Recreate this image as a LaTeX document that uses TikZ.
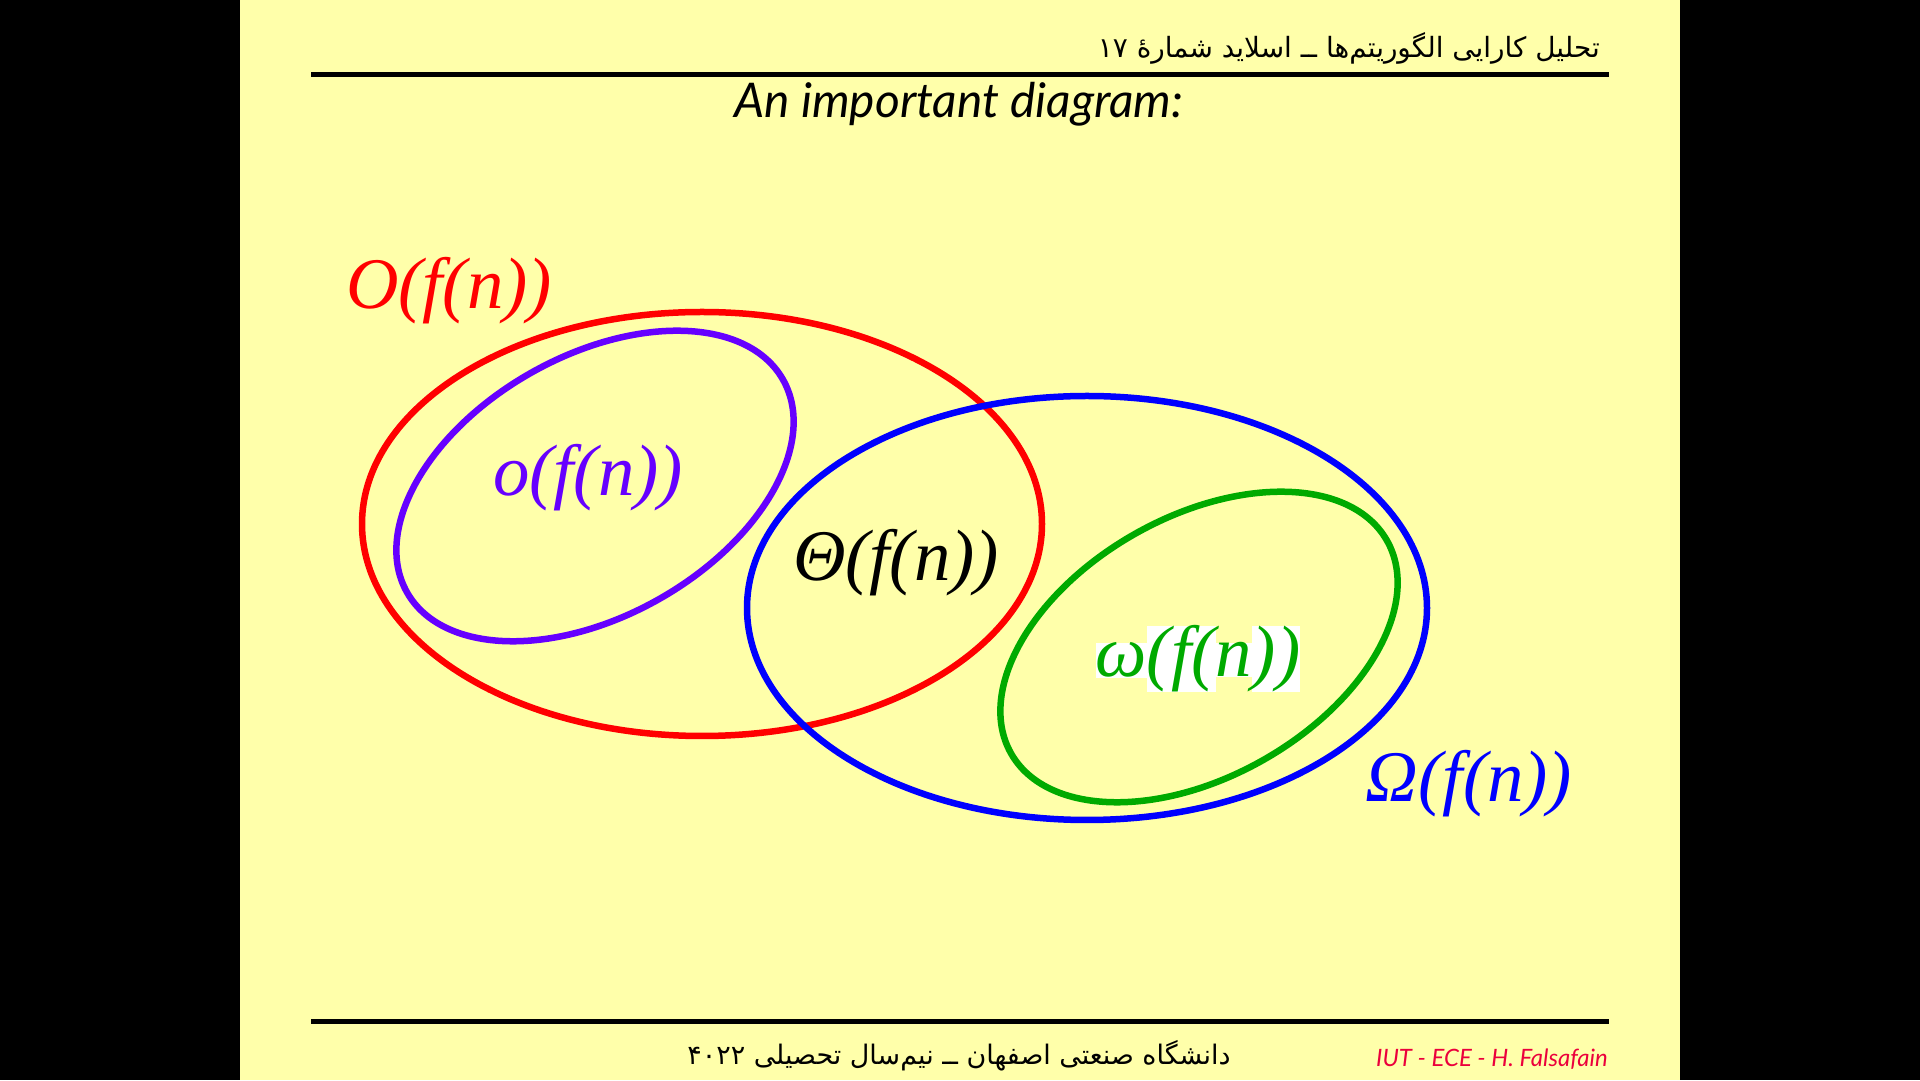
\documentclass[tikz,border=0pt]{standalone}
\usepackage{fontspec}
\setmainfont{Liberation Serif}
\newfontfamily\latofont{Lato}
\newfontfamily\farsifont[Script=Arabic]{DejaVu Sans}
\TeXXeTstate=1
\definecolor{slideyellow}{RGB}{255,255,170}
\definecolor{setpurple}{RGB}{102,0,255}
\definecolor{setgreen}{RGB}{0,170,0}
\definecolor{footred}{RGB}{235,0,60}

\begin{document}
\begin{tikzpicture}[x=1bp, y=1bp,
  setline/.style={line width=6.5bp},
  setlabel/.style={font=\fontsize{73}{80}\selectfont\itshape, inner sep=0pt}]
  % frame and slide
  \fill[black] (0,0) rectangle (1920,1080);
  \fill[slideyellow] (240,0) rectangle (1680,1080);
  \useasboundingbox (0,0) rectangle (1920,1080);
  % header
  \draw[line width=5bp] (311,1005) -- (1609,1005);
  \node[anchor=base east, inner sep=0pt, font=\farsifont\fontsize{28}{32}\selectfont] (head) at (1600,1022)
    {\beginR تحلیل کارایی الگوریتم‌ها ــ اسلاید شمارهٔ \beginL ۱۷\endL\endR};
  \node[anchor=base, inner sep=0pt, font=\latofont\itshape\fontsize{48}{54}\selectfont] (title) at (959,962)
    {An important diagram:};
  % the sets
  \draw[setline, red] (702,556) ellipse [x radius=340, y radius=212];
  \draw[setline, blue] (1087,472) ellipse [x radius=340, y radius=212];
  \draw[setline, setpurple, rotate around={29.5:(595,594)}] (595,594) ellipse [x radius=216, y radius=130];
  \draw[setline, setgreen, rotate around={29.5:(1199,433)}] (1199,433) ellipse [x radius=216, y radius=130];
  % labels
  \node[setlabel, red] (bigO) at (449,789) {O(f(n))};
  \node[setlabel, setpurple] (smallo) at (588,602) {o(f(n))};
  \node[setlabel, black] (theta) at (896,517) {Θ(f(n))};
  \node[setlabel, setgreen] (smallomega) at (1198,421)
    {\fboxsep=0pt\colorbox{white}{ω}\colorbox{white}{(f(}\colorbox{white}{n}\colorbox{white}{))}};
  \node[setlabel, blue] (bigOmega) at (1469,296) {Ω(f(n))};
  % footer
  \draw[line width=5bp] (311,59) -- (1609,59);
  \node[anchor=base, inner sep=0pt, font=\farsifont\fontsize{27}{31}\selectfont] (foot) at (959,16)
    {\beginR دانشگاه صنعتی اصفهان ــ نیم‌سال تحصیلی \beginL ۴۰۲۲\endL\endR};
  \node[anchor=base east, inner sep=0pt, text=footred, font=\latofont\itshape\fontsize{24}{28}\selectfont] (author) at (1608,14)
    {IUT - ECE - H. Falsafain};
\end{tikzpicture}
\end{document}
